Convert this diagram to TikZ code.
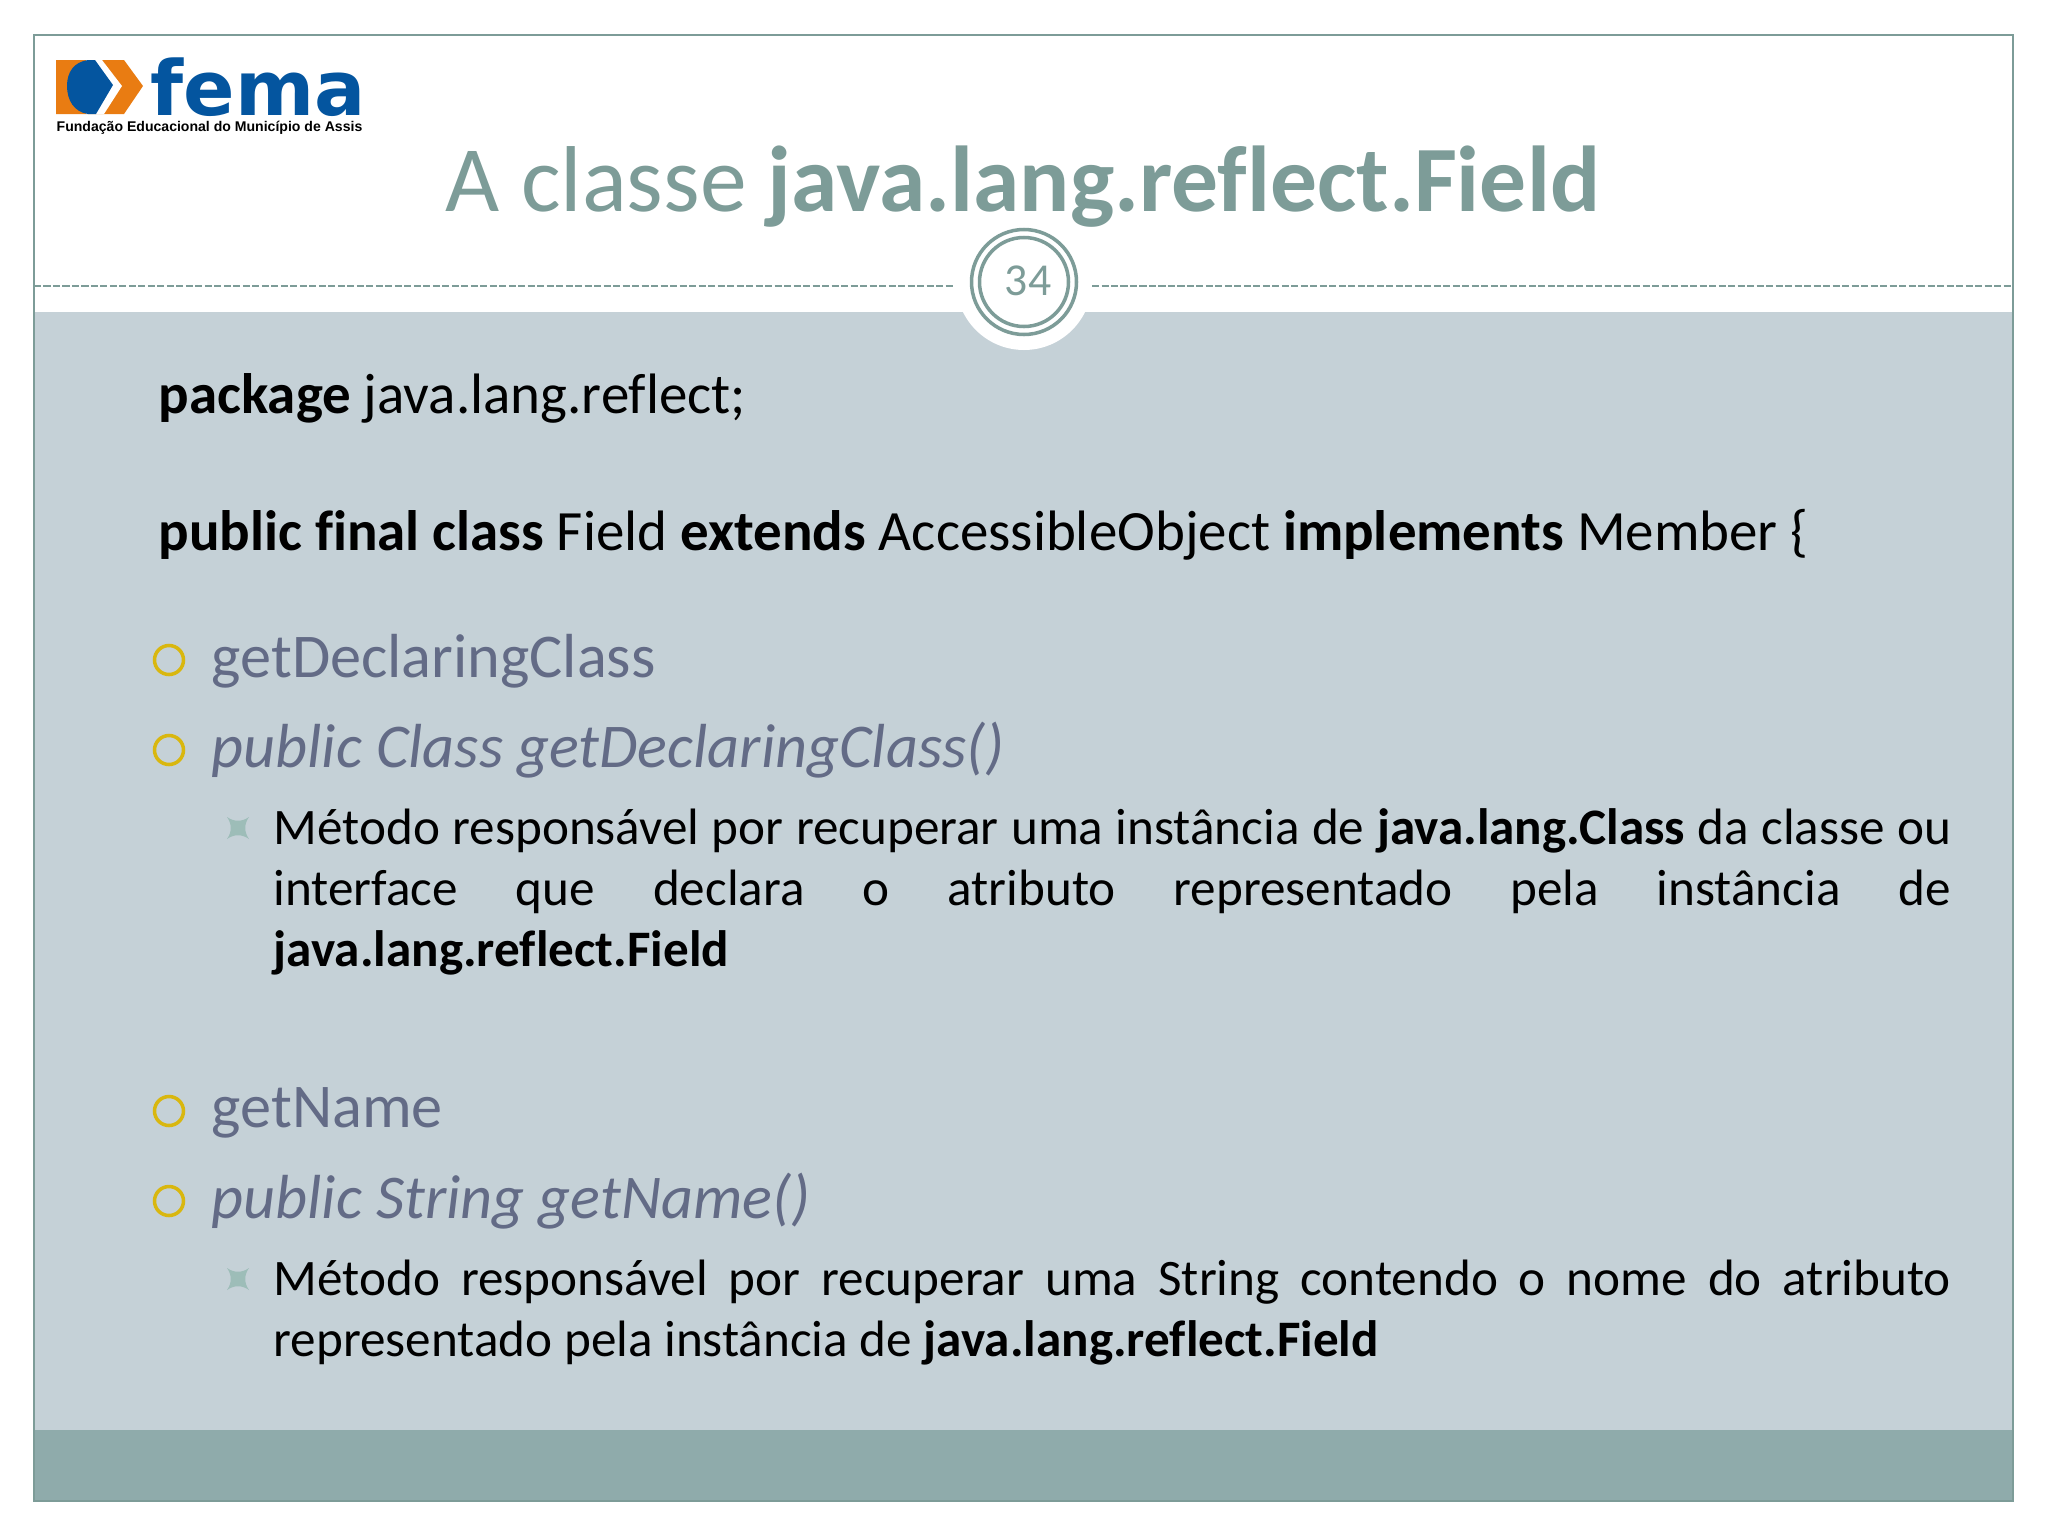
\documentclass[tikz,border=0pt]{standalone}
\usepackage{fontspec}
\setmainfont{Carlito}[RawFeature={-liga}]
\newfontfamily\logofont{DejaVu Sans}
\newfontfamily\captionfont{Liberation Sans}
\usepackage{tikz}

\definecolor{framecol}{HTML}{7D9C98}
\definecolor{bodycol}{HTML}{C5D1D7}
\definecolor{footcol}{HTML}{8FABAB}
\definecolor{headcol}{HTML}{636B86}
\definecolor{ringcol}{HTML}{D9B70F}
\definecolor{starcol}{HTML}{9DBDB8}
\definecolor{logoblue}{HTML}{04559F}
\definecolor{logoorange}{HTML}{E97C12}

\tikzset{
	code/.style={anchor=base west,inner sep=0pt,font=\fontsize{16.2}{19}\selectfont},
	head/.style={anchor=base west,inner sep=0pt,text=headcol,font=\fontsize{17.7}{21}\selectfont},
	desc/.style={anchor=base west,inner sep=0pt,text width=477pt,align=justify,font=\fontsize{14.55}{17.45}\selectfont},
	ringbullet/.style={draw=ringcol,line width=1pt},
	starbullet/.style={fill=starcol}
}
\newcommand{\starmark}[2]{\fill[starbullet] (#1-11,#2-11) .. controls (#1-4,#2-6) and (#1+4,#2-6) .. (#1+11,#2-11) .. controls (#1+6,#2-4) and (#1+6,#2+4) .. (#1+11,#2+11) .. controls (#1+4,#2+6) and (#1-4,#2+6) .. (#1-11,#2+11) .. controls (#1-6,#2+4) and (#1-6,#2-4) .. (#1-11,#2-11) -- cycle;}

\begin{document}
\begin{tikzpicture}[x=0.01cm,y=-0.01cm]
	\useasboundingbox (0,0) rectangle (2048,1536);

	% slide
	\fill[white] (0,0) rectangle (2048,1536);
	\fill[bodycol] (34,312) rectangle (2013,1430);
	\fill[footcol] (34,1430) rectangle (2013,1501);
	\draw[framecol,line width=0.7pt] (34,35) rectangle (2013,1501);

	% logo
	\fill[logoorange] (56,60) -- (124,60) -- (143,86) -- (124,114) -- (56,114) -- cycle;
	\fill[white] (86,60) -- (102,60) -- (122,86) -- (104,114) -- (86,114) -- cycle;
	\fill[logoblue] (88,60) -- (95,60) -- (113,85) -- (96,114) -- (88,114) .. controls (74,112) and (67,100) .. (67,86) .. controls (67,72) and (74,62) .. (88,60) -- cycle;
	\node[anchor=base west,inner sep=0pt,text=logoblue] (logoname) at (150,115) {\logofont\bfseries\fontsize{21.6}{24}\selectfont fema};
	\node[anchor=base west,inner sep=0pt] (logotext) at (56,131) {\captionfont\bfseries\fontsize{4}{5}\selectfont Fundação Educacional do Município de Assis};

	% title
	\node[anchor=base,inner sep=0pt,text=framecol,font=\fontsize{26.6}{30}\selectfont] (title) at (1023,211) {A classe \textbf{java.lang.reflect.Field}};

	% number
	\coordinate (ruleA) at (34,286);
	\coordinate (ruleB) at (953,286);
	\coordinate (ruleC) at (1092,286);
	\coordinate (ruleD) at (2013,286);
	\draw[framecol,dashed,line width=0.4pt,dash pattern=on 2pt off 0.7pt] (ruleA) -- (ruleB);
	\draw[framecol,dashed,line width=0.4pt,dash pattern=on 2pt off 0.7pt] (ruleC) -- (ruleD);
	\coordinate (num) at (1024,282);
	\fill[white] (num) circle [radius=68];
	\draw[framecol,line width=1pt] (num) circle [radius=52.5];
	\draw[framecol,line width=1pt] (num) circle [radius=44.5];
	\node[inner sep=0pt,text=framecol,font=\fontsize{13}{15}\selectfont] (numtext) at (1028,281) {34};

	% code
	\node[code] (pack) at (158,413) {\textbf{package} java.lang.reflect;};
	\node[code] (decl) at (158,550) {\textbf{public final class} Field \textbf{extends} AccessibleObject \textbf{implements} Member \{};

	% items
	\draw[ringbullet] (169,660) circle [radius=14.5];
	\node[head] (itemA) at (211,677) {getDeclaringClass};
	\draw[ringbullet] (169,750) circle [radius=14.5];
	\node[head] (itemB) at (211,767) {\itshape public Class getDeclaringClass()};
	\starmark{238}{828}
	\node[desc] (itemC) at (273,844) {Método responsável por recuperar uma instância de \textbf{java.lang.Class} da classe ou\linebreak interface que declara o atributo representado pela instância de\linebreak \textbf{java.lang.reflect.Field}};

	\draw[ringbullet] (169,1111) circle [radius=14.5];
	\node[head] (itemD) at (211,1127) {getName};
	\draw[ringbullet] (169,1201) circle [radius=14.5];
	\node[head] (itemE) at (211,1218) {\itshape public String getName()};
	\starmark{238}{1279}
	\node[desc] (itemF) at (273,1295) {Método responsável por recuperar uma String contendo o nome do atributo\linebreak representado pela instância de \textbf{java.lang.reflect.Field}};
\end{tikzpicture}
\end{document}
